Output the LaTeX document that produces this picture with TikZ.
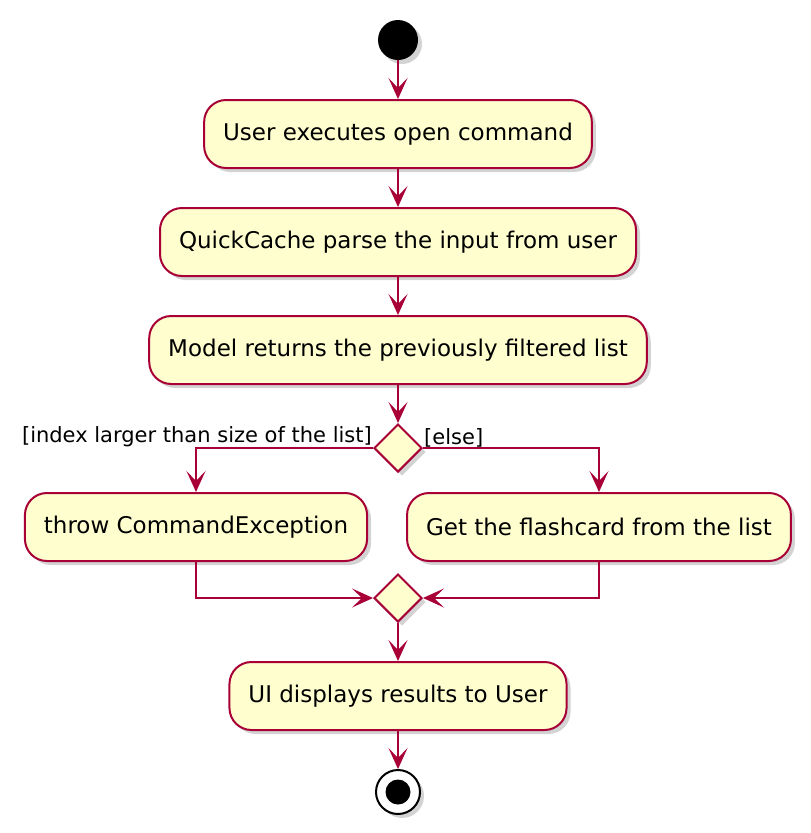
\documentclass[tikz,border=0pt]{standalone}
\usepackage{fontspec}
\setmainfont{DejaVu Sans}
\usepackage{tikz}
\usetikzlibrary{arrows.meta, shapes.geometric, shadows}
\definecolor{umlred}{HTML}{A80036}
\definecolor{umlfill}{HTML}{FEFECE}
\tikzstyle{action} = [rectangle, rounded corners=22pt, draw=umlred, fill=umlfill, line width=2pt, minimum height=68pt, inner xsep=19pt, font=\fontsize{23}{27}\selectfont, drop shadow={shadow xshift=4pt, shadow yshift=-4pt, opacity=0.35}]
\tikzstyle{choice} = [diamond, aspect=1, minimum size=48pt, inner sep=0pt, draw=umlred, fill=umlfill, line width=2pt, drop shadow={shadow xshift=4pt, shadow yshift=-4pt, opacity=0.35}]
\tikzstyle{flow} = [draw=umlred, line width=2pt, -{Stealth[length=21pt, width=19pt, inset=10pt]}]
\tikzstyle{guard} = [font=\fontsize{21}{24}\selectfont, inner sep=1pt]

\begin{document}
\begin{tikzpicture}[x=1pt, y=-1pt]
        \useasboundingbox (0,0) rectangle (811,833);
        \node (start) [circle, fill=black, minimum size=40pt, inner sep=0pt, drop shadow={shadow xshift=4pt, shadow yshift=-4pt, opacity=0.35}] at (398,40) {};
        \node (open) [action] at (398,134) {User executes open command};
        \node (parse) [action] at (398,242) {QuickCache parse the input from user};
        \node (model) [action] at (398,350) {Model returns the previously filtered list};
        \node (split) [choice] at (398,448) {};
        \node (throw) [action] at (196,527) {throw CommandException};
        \node (get) [action] at (599,527) {Get the flashcard from the list};
        \node (merge) [choice] at (398,598) {};
        \node (show) [action] at (398,696) {UI displays results to User};
        \node (stop) [circle, draw=black, fill=white, line width=2pt, minimum size=44pt, inner sep=0pt, drop shadow={shadow xshift=4pt, shadow yshift=-4pt, opacity=0.35}] at (398,792) {};
        \node [circle, fill=black, minimum size=25pt, inner sep=0pt] at (stop) {};
        \node [guard, anchor=south east] at (split.west) {[index larger than size of the list]};
        \node [guard, anchor=south west] at (split.east) {[else]};
        \draw [flow] (start) -- (open);
        \draw [flow] (open) -- (parse);
        \draw [flow] (parse) -- (model);
        \draw [flow] (model) -- (split);
        \draw [flow] (split.west) -| (throw);
        \draw [flow] (split.east) -| (get);
        \draw [flow] (throw.south) |- (merge.west);
        \draw [flow] (get.south) |- (merge.east);
        \draw [flow] (merge) -- (show);
        \draw [flow] (show) -- (stop);
    \end{tikzpicture}
\end{document}
